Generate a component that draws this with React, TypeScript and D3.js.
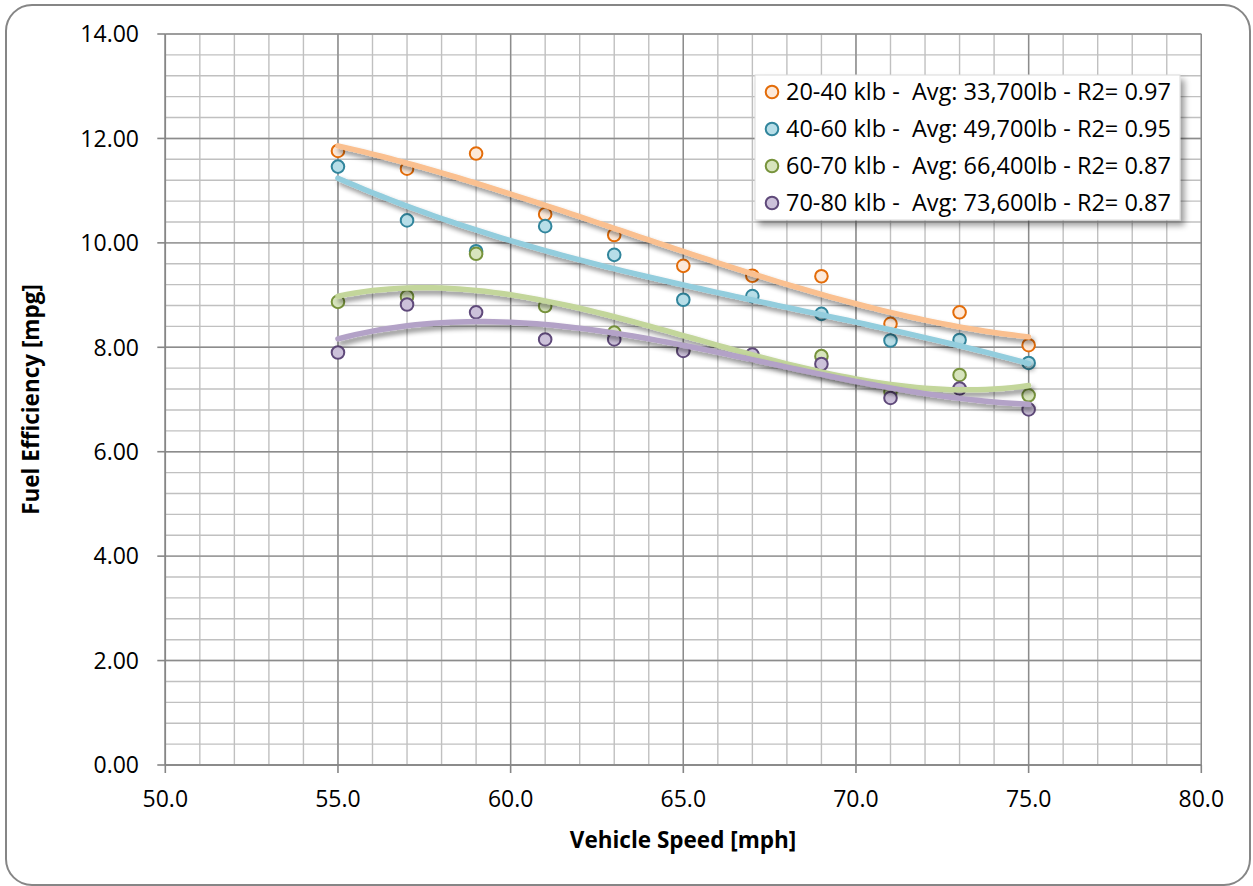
import React from "react";
import * as d3 from "d3";

const speeds = [55, 57, 59, 61, 63, 65, 67, 69, 71, 73, 75];
const s2040 = [11.76, 11.42, 11.71, 10.55, 10.15, 9.56, 9.37, 9.36, 8.45, 8.67, 8.04];
const s4060 = [11.46, 10.43, 9.84, 10.32, 9.77, 8.91, 8.98, 8.64, 8.13, 8.14, 7.7];
const s6070 = [8.87, 8.97, 9.79, 8.79, 8.28, 7.95, 7.85, 7.83, 7.15, 7.47, 7.08];
const s7080 = [7.9, 8.82, 8.67, 8.15, 8.15, 7.93, 7.86, 7.68, 7.03, 7.21, 6.81];

const seriesNames = [
  "20-40 klb -  Avg: 33,700lb - R2= 0.97",
  "40-60 klb -  Avg: 49,700lb - R2= 0.95",
  "60-70 klb -  Avg: 66,400lb - R2= 0.87",
  "70-80 klb -  Avg: 73,600lb - R2= 0.87",
];
const seriesValues = [s2040, s4060, s6070, s7080];
const markerFill = ["#fde9d9", "#b7dee8", "#d7e4bd", "#ccc1da"];
const markerStroke = ["#e36c09", "#31859c", "#77933c", "#5f497a"];
const lineColor = ["#fac090", "#93cddd", "#c3d69b", "#b3a2c7"];

const xTicks = [50, 55, 60, 65, 70, 75, 80];
const yTicks = [0, 2, 4, 6, 8, 10, 12, 14];

// least squares cubic fit (trendline)
function cubicFit(xs: number[], ys: number[]) {
  const c = 65;
  const n = 4;
  const A: number[][] = Array.from({ length: n }, () => Array(n + 1).fill(0));
  xs.forEach((x0, k) => {
    const x = x0 - c;
    const p = [1, x, x * x, x * x * x];
    for (let i = 0; i < n; i++) {
      for (let j = 0; j < n; j++) A[i][j] += p[i] * p[j];
      A[i][n] += p[i] * ys[k];
    }
  });
  for (let i = 0; i < n; i++) {
    let m = i;
    for (let r = i + 1; r < n; r++) if (Math.abs(A[r][i]) > Math.abs(A[m][i])) m = r;
    [A[i], A[m]] = [A[m], A[i]];
    for (let r = 0; r < n; r++) {
      if (r === i) continue;
      const f = A[r][i] / A[i][i];
      for (let j = i; j <= n; j++) A[r][j] -= f * A[i][j];
    }
  }
  const coef = A.map((row, i) => row[n] / row[i]);
  return (x0: number) => {
    const x = x0 - c;
    return coef[0] + coef[1] * x + coef[2] * x * x + coef[3] * x * x * x;
  };
}

export default function App() {
  const left = 165.3, right = 1201.3, top = 34, bottom = 765;
  const x = d3.scaleLinear().domain([50, 80]).range([left, right]);
  const y = d3.scaleLinear().domain([0, 14]).range([bottom, top]);
  const font = "'Open Sans', sans-serif";

  const minorX = d3.range(50, 80.001, 1);
  const minorY = d3.range(0, 14.001, 0.4);

  const line = d3.line<[number, number]>().x((d) => x(d[0])).y((d) => y(d[1]));
  const samples = d3.range(55, 75.001, 0.25);

  return (
    <svg width={1253} height={886} style={{ position: "absolute", left: 0, top: 0 }}>
      <defs>
        <filter id="sh" x="-10%" y="-50%" width="130%" height="200%">
          <feGaussianBlur in="SourceAlpha" stdDeviation="2.5" />
          <feOffset dx="3" dy="4" result="b" />
          <feComponentTransfer>
            <feFuncA type="linear" slope="0.45" />
          </feComponentTransfer>
          <feMerge>
            <feMergeNode />
            <feMergeNode in="SourceGraphic" />
          </feMerge>
        </filter>
        <filter id="lsh" x="-10%" y="-10%" width="130%" height="140%">
          <feGaussianBlur in="SourceAlpha" stdDeviation="3" />
          <feOffset dx="4" dy="5" />
          <feComponentTransfer>
            <feFuncA type="linear" slope="0.4" />
          </feComponentTransfer>
          <feMerge>
            <feMergeNode />
            <feMergeNode in="SourceGraphic" />
          </feMerge>
        </filter>
      </defs>
      <rect x={0} y={0} width={1253} height={886} fill="#fff" />
      <rect x={6} y={5} width={1244} height={880} rx={26} ry={26} fill="#fff" stroke="#868686" strokeWidth={2} />

      {/* minor grid */}
      {minorX.map((v) => (
        <line key={"mx" + v} x1={x(v)} x2={x(v)} y1={top} y2={bottom} stroke="#c0c0c0" strokeWidth={1.4} />
      ))}
      {minorY.map((v) => (
        <line key={"my" + v} x1={left} x2={right} y1={y(v)} y2={y(v)} stroke="#c0c0c0" strokeWidth={1.4} />
      ))}
      {/* major grid */}
      {xTicks.map((v) => (
        <line key={"Mx" + v} x1={x(v)} x2={x(v)} y1={top} y2={bottom} stroke="#8c8c8c" strokeWidth={1.4} />
      ))}
      {yTicks.map((v) => (
        <line key={"My" + v} x1={left} x2={right} y1={y(v)} y2={y(v)} stroke="#8c8c8c" strokeWidth={1.4} />
      ))}
      {/* axes */}
      <line x1={left} x2={left} y1={top} y2={bottom} stroke="#868686" strokeWidth={1.6} />
      <line x1={left} x2={right} y1={bottom} y2={bottom} stroke="#868686" strokeWidth={1.6} />
      {yTicks.map((v) => (
        <g key={"yt" + v}>
          <line x1={left - 8} x2={left} y1={y(v)} y2={y(v)} stroke="#868686" strokeWidth={1.6} />
          <text x={139} y={y(v)} dy="0.36em" textAnchor="end" fontFamily={font} fontSize={23} fill="#000">
            {v.toFixed(2)}
          </text>
        </g>
      ))}
      {xTicks.map((v) => (
        <g key={"xt" + v}>
          <line x1={x(v)} x2={x(v)} y1={bottom} y2={bottom + 8} stroke="#868686" strokeWidth={1.6} />
          <text x={x(v)} y={807} textAnchor="middle" fontFamily={font} fontSize={23} fill="#000">
            {v.toFixed(1)}
          </text>
        </g>
      ))}

      {/* axis titles */}
      <text x={683} y={848} textAnchor="middle" fontFamily={font} fontWeight="bold" fontSize={22.5} fill="#000">
        Vehicle Speed [mph]
      </text>
      <text
        transform={`translate(39,${(top + bottom) / 2}) rotate(-90)`}
        textAnchor="middle"
        fontFamily={font}
        fontWeight="bold"
        fontSize={22.5}
        fill="#000"
      >
        Fuel Efficiency [mpg]
      </text>

      {/* markers */}
      {seriesValues.map((vals, si) => (
        <g key={"m" + si}>
          {vals.map((v, i) => (
            <circle
              key={i}
              cx={x(speeds[i])}
              cy={y(v)}
              r={6.3}
              fill={markerFill[si]}
              stroke={markerStroke[si]}
              strokeWidth={2}
            />
          ))}
        </g>
      ))}

      {/* trendlines */}
      {seriesValues.map((vals, si) => {
        const f = cubicFit(speeds, vals);
        const pts = samples.map((s) => [s, f(s)] as [number, number]);
        return (
          <path
            key={"t" + si}
            d={line(pts) || ""}
            fill="none"
            stroke={lineColor[si]}
            strokeWidth={5.5}
            strokeLinecap="round"
            filter="url(#sh)"
          />
        );
      })}

      {/* legend */}
      <rect x={755} y={75} width={425} height={145} fill="#fff" stroke="#d9d9d9" strokeWidth={1} filter="url(#lsh)" />
      {seriesNames.map((nm, i) => (
        <g key={"lg" + i}>
          <circle cx={772} cy={92 + i * 37} r={6.3} fill={markerFill[i]} stroke={markerStroke[i]} strokeWidth={2} />
          <text
            x={786}
            y={92 + i * 37}
            dy="0.36em"
            fontFamily={font}
            fontSize={23.5}
            fill="#000"
            style={{ whiteSpace: "pre" }}
          >
            {nm}
          </text>
        </g>
      ))}
    </svg>
  );
}
